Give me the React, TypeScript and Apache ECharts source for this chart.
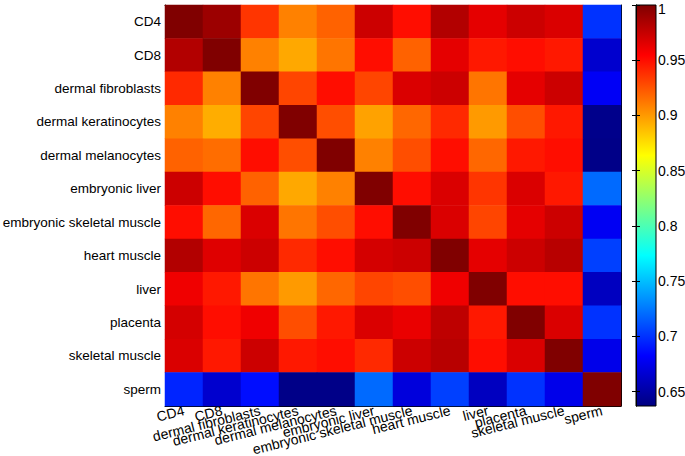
import React, { useEffect, useRef } from "react";
import * as echarts from "echarts";

const categories = [
  "CD4",
  "CD8",
  "dermal fibroblasts",
  "dermal keratinocytes",
  "dermal melanocytes",
  "embryonic liver",
  "embryonic skeletal muscle",
  "heart muscle",
  "liver",
  "placenta",
  "skeletal muscle",
  "sperm",
];

const rowCD4 = [1.0, 0.99, 0.936, 0.909, 0.92, 0.973, 0.95, 0.982, 0.964, 0.973, 0.968, 0.7];
const rowCD8 = [0.982, 1.0, 0.909, 0.895, 0.913, 0.95, 0.92, 0.964, 0.946, 0.95, 0.946, 0.665];
const rowDermalFibroblasts = [0.94, 0.909, 1.0, 0.93, 0.95, 0.93, 0.968, 0.973, 0.913, 0.964, 0.973, 0.679];
const rowDermalKeratinocytes = [0.909, 0.893, 0.93, 1.0, 0.927, 0.897, 0.918, 0.94, 0.9, 0.927, 0.946, 0.641];
const rowDermalMelanocytes = [0.92, 0.916, 0.95, 0.927, 1.0, 0.909, 0.927, 0.95, 0.918, 0.946, 0.95, 0.64];
const rowEmbryonicLiver = [0.973, 0.95, 0.92, 0.895, 0.909, 1.0, 0.95, 0.968, 0.936, 0.968, 0.946, 0.72];
const rowEmbryonicSkeletalMuscle = [0.95, 0.918, 0.968, 0.913, 0.927, 0.95, 1.0, 0.968, 0.93, 0.964, 0.973, 0.678];
const rowHeartMuscle = [0.982, 0.966, 0.973, 0.94, 0.95, 0.97, 0.973, 1.0, 0.964, 0.973, 0.98, 0.705];
const rowLiver = [0.96, 0.946, 0.913, 0.9, 0.918, 0.93, 0.927, 0.96, 1.0, 0.95, 0.95, 0.66];
const rowPlacenta = [0.97, 0.95, 0.96, 0.927, 0.946, 0.968, 0.962, 0.978, 0.946, 1.0, 0.968, 0.7];
const rowSkeletalMuscle = [0.968, 0.946, 0.973, 0.946, 0.95, 0.94, 0.973, 0.98, 0.95, 0.968, 1.0, 0.675];
const rowSperm = [0.695, 0.665, 0.687, 0.64, 0.64, 0.72, 0.67, 0.705, 0.66, 0.7, 0.675, 1.0];

const matrix = [
  rowCD4,
  rowCD8,
  rowDermalFibroblasts,
  rowDermalKeratinocytes,
  rowDermalMelanocytes,
  rowEmbryonicLiver,
  rowEmbryonicSkeletalMuscle,
  rowHeartMuscle,
  rowLiver,
  rowPlacenta,
  rowSkeletalMuscle,
  rowSperm,
];

const colorbarTicks = [0.65, 0.7, 0.75, 0.8, 0.85, 0.9, 0.95, 1];
const colorMin = 0.637;
const colorMax = 1;

const jet = [
  "#000080",
  "#0000ff",
  "#0080ff",
  "#00ffff",
  "#80ff80",
  "#ffff00",
  "#ff8000",
  "#ff0000",
  "#800000",
];

export default function App() {
  const ref = useRef<HTMLDivElement>(null);

  useEffect(() => {
    document.body.style.margin = "0";
    const chart = echarts.init(ref.current!, null, { renderer: "svg" });

    const data: [number, number, number][] = [];
    matrix.forEach((row, yi) => {
      row.forEach((v, xi) => data.push([xi, yi, v]));
    });

    const font = "'Liberation Sans', Arial, sans-serif";
    const gridL = { left: 165, top: 5, width: 456, height: 401 };
    const gridC = { left: 636, top: 5, width: 20, height: 401 };

    const gradient = new echarts.graphic.LinearGradient(
      0,
      1,
      0,
      0,
      jet.map((c, i) => ({ offset: i / (jet.length - 1), color: c }))
    );

    const tickStyle = { show: true, inside: true, length: 4, lineStyle: { color: "#000", width: 1 } };
    const lineStyle = { show: true, lineStyle: { color: "#000", width: 1 } };

    chart.setOption({
      animation: false,
      backgroundColor: "#fff",
      grid: [
        { ...gridL, containLabel: false, outerBoundsMode: "none" },
        {
          ...gridC,
          containLabel: false,
          outerBoundsMode: "none",
          show: true,
          backgroundColor: gradient,
          borderColor: "#000",
          borderWidth: 1,
        },
      ],
      visualMap: {
        show: false,
        min: colorMin,
        max: colorMax,
        seriesIndex: 0,
        inRange: { color: jet },
      },
      xAxis: [
        {
          type: "category",
          gridIndex: 0,
          data: categories,
          position: "bottom",
          axisLine: lineStyle,
          axisTick: { ...tickStyle, alignWithLabel: true },
          axisLabel: {
            interval: 0,
            rotate: 14,
            margin: 4,
            fontSize: 14,
            color: "#000",
            fontFamily: font,
          },
          splitLine: { show: false },
        },
        {
          type: "category",
          gridIndex: 0,
          data: categories,
          position: "top",
          axisLine: lineStyle,
          axisTick: { ...tickStyle, alignWithLabel: true },
          axisLabel: { show: false },
          splitLine: { show: false },
        },
        {
          type: "value",
          gridIndex: 1,
          show: false,
          min: 0,
          max: 1,
        },
      ],
      yAxis: [
        {
          type: "category",
          gridIndex: 0,
          data: categories,
          inverse: true,
          position: "left",
          axisLine: lineStyle,
          axisTick: { ...tickStyle, alignWithLabel: true },
          axisLabel: {
            interval: 0,
            margin: 4,
            fontSize: 13.5,
            color: "#000",
            fontFamily: font,
          },
          splitLine: { show: false },
        },
        {
          type: "category",
          gridIndex: 0,
          data: categories,
          inverse: true,
          position: "right",
          axisLine: lineStyle,
          axisTick: { ...tickStyle, alignWithLabel: true },
          axisLabel: { show: false },
          splitLine: { show: false },
        },
        {
          type: "value",
          gridIndex: 1,
          position: "right",
          min: colorMin,
          max: colorMax,
          axisLine: lineStyle,
          axisTick: { ...tickStyle, customValues: colorbarTicks },
          axisLabel: {
            customValues: colorbarTicks,
            margin: 2,
            fontSize: 14,
            color: "#000",
            fontFamily: font,
            formatter: (v: number) => (v >= 1 ? "{top|" + v + "}" : String(v)),
            rich: {
              top: {
                fontSize: 14,
                color: "#000",
                fontFamily: font,
                padding: [8, 0, 0, 0],
              },
            },
          },
          splitLine: { show: false },
        },
        {
          type: "value",
          gridIndex: 1,
          position: "left",
          min: colorMin,
          max: colorMax,
          axisLine: lineStyle,
          axisTick: { ...tickStyle, customValues: colorbarTicks },
          axisLabel: { show: false },
          splitLine: { show: false },
        },
      ],
      series: [
        {
          type: "heatmap",
          xAxisIndex: 0,
          yAxisIndex: 0,
          data,
          itemStyle: { borderWidth: 0 },
          emphasis: { disabled: true },
        },
      ],
    });

    return () => chart.dispose();
  }, []);

  return <div ref={ref} style={{ width: 685, height: 456 }} />;
}
